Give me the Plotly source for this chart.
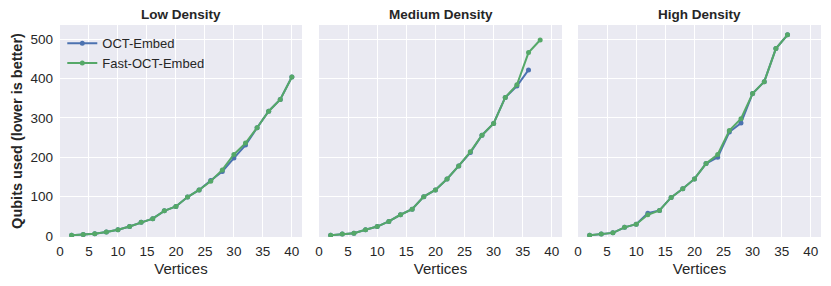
import plotly.graph_objects as go

titles = ["Low Density", "Medium Density", "High Density"]
series_names = ["OCT-Embed", "Fast-OCT-Embed"]

low_x = [2, 4, 6, 8, 10, 12, 14, 16, 18, 20, 22, 24, 26, 28, 30, 32, 34, 36, 38, 40]
low_oct = [2, 4, 6, 10, 16, 24, 35, 44, 64, 75, 99, 117, 141, 164, 198, 231, 275, 317, 347, 404]
low_fast = [2, 4, 6, 10, 16, 24, 35, 44, 64, 75, 99, 117, 139, 168, 207, 236, 275, 317, 347, 404]

med_x_oct = [2, 4, 6, 8, 10, 12, 14, 16, 18, 20, 22, 24, 26, 28, 30, 32, 34, 36]
med_oct = [2, 5, 7, 16, 24, 37, 54, 68, 100, 117, 145, 178, 212, 256, 286, 352, 381, 422]
med_x_fast = [2, 4, 6, 8, 10, 12, 14, 16, 18, 20, 22, 24, 26, 28, 30, 32, 34, 36, 38]
med_fast = [2, 5, 7, 16, 24, 37, 54, 68, 100, 117, 145, 178, 214, 256, 286, 352, 384, 466, 498]

high_x = [2, 4, 6, 8, 10, 12, 14, 16, 18, 20, 22, 24, 26, 28, 30, 32, 34, 36]
high_oct = [2, 5, 8, 22, 30, 58, 65, 98, 120, 145, 184, 200, 264, 287, 362, 392, 476, 511]
high_fast = [2, 5, 8, 22, 30, 54, 65, 98, 120, 145, 184, 207, 268, 298, 362, 392, 476, 511]

x_ticks = [0, 5, 10, 15, 20, 25, 30, 35, 40]
y_ticks = [0, 100, 200, 300, 400, 500]

blue = "#4C72B0"
green = "#55A868"
font_family = "Liberation Sans, Arial, sans-serif"
text_color = "#262626"

panels = [
    (low_x, low_oct, low_x, low_fast),
    (med_x_oct, med_oct, med_x_fast, med_fast),
    (high_x, high_oct, high_x, high_fast),
]

W, H = 831, 286
ml, mr, mt, mb = 60, 10, 25, 49
pw = W - ml - mr
px_domains = [(60, 302), (319, 562), (578, 821)]
domains = [((a - ml) / pw, (b - ml) / pw) for a, b in px_domains]

fig = go.Figure()
for i, (xo, yo, xf, yf) in enumerate(panels):
    ax = "" if i == 0 else str(i + 1)
    fig.add_trace(go.Scatter(x=xo, y=yo, mode="lines+markers", name=series_names[0],
                             line=dict(color=blue, width=2), marker=dict(color=blue, size=5),
                             xaxis="x" + ax, yaxis="y" + ax, showlegend=(i == 0)))
    fig.add_trace(go.Scatter(x=xf, y=yf, mode="lines+markers", name=series_names[1],
                             line=dict(color=green, width=2), marker=dict(color=green, size=5),
                             xaxis="x" + ax, yaxis="y" + ax, showlegend=(i == 0)))

layout = dict(
    width=W, height=H,
    margin=dict(l=ml, r=mr, t=mt, b=mb, autoexpand=False),
    paper_bgcolor="white", plot_bgcolor="#EAEAF2",
    font=dict(family=font_family, size=13.5, color=text_color),
    legend=dict(x=0.003, y=0.985, xanchor="left", yanchor="top", bgcolor="rgba(0,0,0,0)",
                font=dict(size=13, color=text_color), tracegroupgap=0),
    annotations=[],
)
for i in range(3):
    ax = "" if i == 0 else str(i + 1)
    layout["xaxis" + ax] = dict(
        domain=list(domains[i]), range=[0, 41.75], tickvals=x_ticks,
        showgrid=True, gridcolor="white", gridwidth=1, zeroline=False,
        showline=False, ticks="outside", ticklen=2, tickcolor="rgba(0,0,0,0)",
        tickfont=dict(size=13.5, color=text_color),
        title=dict(text="Vertices", font=dict(size=15, color=text_color), standoff=5),
        anchor="y" + ax, automargin=False,
    )
    layout["yaxis" + ax] = dict(
        domain=[0, 1], range=[-2.5, 536], tickvals=y_ticks,
        showgrid=True, gridcolor="white", gridwidth=1, zeroline=False,
        showline=False, ticks="", showticklabels=(i == 0),
        tickfont=dict(size=13.5, color=text_color), ticklabelstandoff=6,
        anchor="x" + ax, automargin=False,
    )
    if i > 0:
        layout["yaxis" + ax]["matches"] = "y"
    cx = (px_domains[i][0] + px_domains[i][1]) / 2
    layout["annotations"].append(dict(
        text="<b>" + titles[i] + "</b>", xref="paper", yref="paper",
        x=(cx - ml) / pw, y=1, yshift=1, xanchor="center", yanchor="bottom",
        showarrow=False, font=dict(size=13.5, color=text_color)))
layout["yaxis"]["title"] = dict(text="<b>Qubits used (lower is better)</b>",
                                font=dict(size=14.5, color=text_color), standoff=4)
fig.update_layout(**layout)
fig.write_html("out.html", config={"displayModeBar": False},
               post_script="document.body.style.margin='0px';")
